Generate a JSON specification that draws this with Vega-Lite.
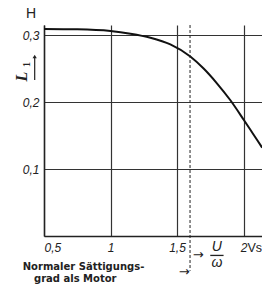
{
  "$schema": "https://vega.github.io/schema/vega-lite/v6.json",
  "autosize": {"type": "none"},
  "padding": {"left": 44, "top": 25, "right": 0, "bottom": 50},
  "width": 218,
  "height": 211,
  "background": "white",
  "config": {
    "view": {"stroke": null},
    "text": {"font": "Liberation Sans", "color": "#222"}
  },
  "layer": [
    {
      "data": {"values": [
        {"x": 0.5, "y": 0.309},
        {"x": 0.75, "y": 0.3085},
        {"x": 1.0, "y": 0.306},
        {"x": 1.15, "y": 0.302},
        {"x": 1.3, "y": 0.296},
        {"x": 1.45, "y": 0.286},
        {"x": 1.6, "y": 0.268},
        {"x": 1.7, "y": 0.25},
        {"x": 1.8, "y": 0.228},
        {"x": 1.9, "y": 0.203},
        {"x": 2.0, "y": 0.174},
        {"x": 2.07, "y": 0.153},
        {"x": 2.14, "y": 0.132}
      ]},
      "mark": {"type": "line", "color": "#111", "strokeWidth": 2, "interpolate": "monotone"},
      "encoding": {
        "x": {
          "field": "x", "type": "quantitative",
          "scale": {"domain": [0.5, 2.139], "nice": false, "zero": false},
          "axis": {
            "title": null, "values": [0.5, 1, 1.5, 2], "grid": true, "gridColor": "#333", "gridWidth": 1.2,
            "ticks": false, "domainColor": "#222", "domainWidth": 1.5,
            "labelFont": "Liberation Sans", "labelFontStyle": "italic", "labelFontSize": 12, "labelColor": "#222",
            "labelPadding": 6,
            "labelExpr": "datum.value == 1 ? '1' : datum.value == 2 ? '2' : replace(format(datum.value, '.1f'), '.', ',')"
          }
        },
        "y": {
          "field": "y", "type": "quantitative",
          "scale": {"domain": [0, 0.315], "nice": false},
          "axis": {
            "title": null, "values": [0.1, 0.2, 0.3], "grid": true, "gridColor": "#333", "gridWidth": 1.2,
            "ticks": false, "domainColor": "#222", "domainWidth": 1.5,
            "labelFont": "Liberation Sans", "labelFontStyle": "italic", "labelFontSize": 12, "labelColor": "#222",
            "labelPadding": 5,
            "labelExpr": "replace(format(datum.value, '.1f'), '.', ',')"
          }
        }
      }
    },
    {
      "data": {"values": [{}]},
      "mark": {"type": "rule", "color": "#222", "strokeWidth": 1, "strokeDash": [3, 2]},
      "encoding": {"x": {"datum": 1.598}, "y": {"datum": 0.315}, "y2": {"datum": -0.052}}
    },
    {
      "data": {"values": [{}]},
      "mark": {"type": "text", "text": "H", "fontSize": 14, "align": "center", "baseline": "middle"},
      "encoding": {"x": {"datum": 0.402}, "y": {"datum": 0.332}}
    },
    {
      "data": {"values": [{}]},
      "mark": {"type": "text", "text": "L", "fontSize": 16, "fontStyle": "italic", "fontWeight": "bold", "font": "Liberation Serif", "angle": 270, "align": "center", "baseline": "middle"},
      "encoding": {"x": {"datum": 0.338}, "y": {"datum": 0.238}}
    },
    {
      "data": {"values": [{}]},
      "mark": {"type": "text", "text": "1", "fontSize": 10, "fontWeight": "bold", "font": "Liberation Serif", "angle": 270, "align": "center", "baseline": "middle"},
      "encoding": {"x": {"datum": 0.37}, "y": {"datum": 0.256}}
    },
    {
      "data": {"values": [{}]},
      "mark": {"type": "rule", "color": "#222", "strokeWidth": 1.2},
      "encoding": {"x": {"datum": 0.43}, "y": {"datum": 0.233}, "y2": {"datum": 0.266}}
    },
    {
      "data": {"values": [{}]},
      "mark": {"type": "point", "shape": "triangle-up", "filled": true, "color": "#222", "size": 18, "opacity": 1},
      "encoding": {"x": {"datum": 0.43}, "y": {"datum": 0.268}}
    },
    {
      "data": {"values": [{}]},
      "mark": {"type": "text", "text": "Vs", "fontSize": 12.5, "align": "left", "baseline": "middle"},
      "encoding": {"x": {"datum": 2.03}, "y": {"datum": -0.018}}
    },
    {
      "data": {"values": [{}]},
      "mark": {"type": "text", "text": "U", "fontSize": 14, "fontStyle": "italic", "align": "center", "baseline": "middle"},
      "encoding": {"x": {"datum": 1.8}, "y": {"datum": -0.017}}
    },
    {
      "data": {"values": [{}]},
      "mark": {"type": "rule", "color": "#222", "strokeWidth": 1.3},
      "encoding": {"x": {"datum": 1.75}, "x2": {"datum": 1.85}, "y": {"datum": -0.029}}
    },
    {
      "data": {"values": [{}]},
      "mark": {"type": "text", "text": "ω", "fontSize": 14, "fontStyle": "italic", "align": "center", "baseline": "middle"},
      "encoding": {"x": {"datum": 1.8}, "y": {"datum": -0.041}}
    },
    {
      "data": {"values": [{}]},
      "mark": {"type": "text", "text": "→", "fontSize": 13, "font": "DejaVu Sans", "align": "center", "baseline": "middle"},
      "encoding": {"x": {"datum": 1.66}, "y": {"datum": -0.029}}
    },
    {
      "data": {"values": [{}]},
      "mark": {"type": "text", "text": "→", "fontSize": 13, "font": "DejaVu Sans", "align": "right", "baseline": "middle"},
      "encoding": {"x": {"datum": 1.596}, "y": {"datum": -0.053}}
    },
    {
      "data": {"values": [{}]},
      "mark": {"type": "text", "text": "Normaler Sättigungs-", "fontSize": 10, "fontWeight": "bold", "font": "DejaVu Sans", "align": "left", "baseline": "middle"},
      "encoding": {"x": {"datum": 0.34}, "y": {"datum": -0.046}}
    },
    {
      "data": {"values": [{}]},
      "mark": {"type": "text", "text": "grad als Motor", "fontSize": 10, "fontWeight": "bold", "font": "DejaVu Sans", "align": "left", "baseline": "middle"},
      "encoding": {"x": {"datum": 0.425}, "y": {"datum": -0.064}}
    }
  ]
}
